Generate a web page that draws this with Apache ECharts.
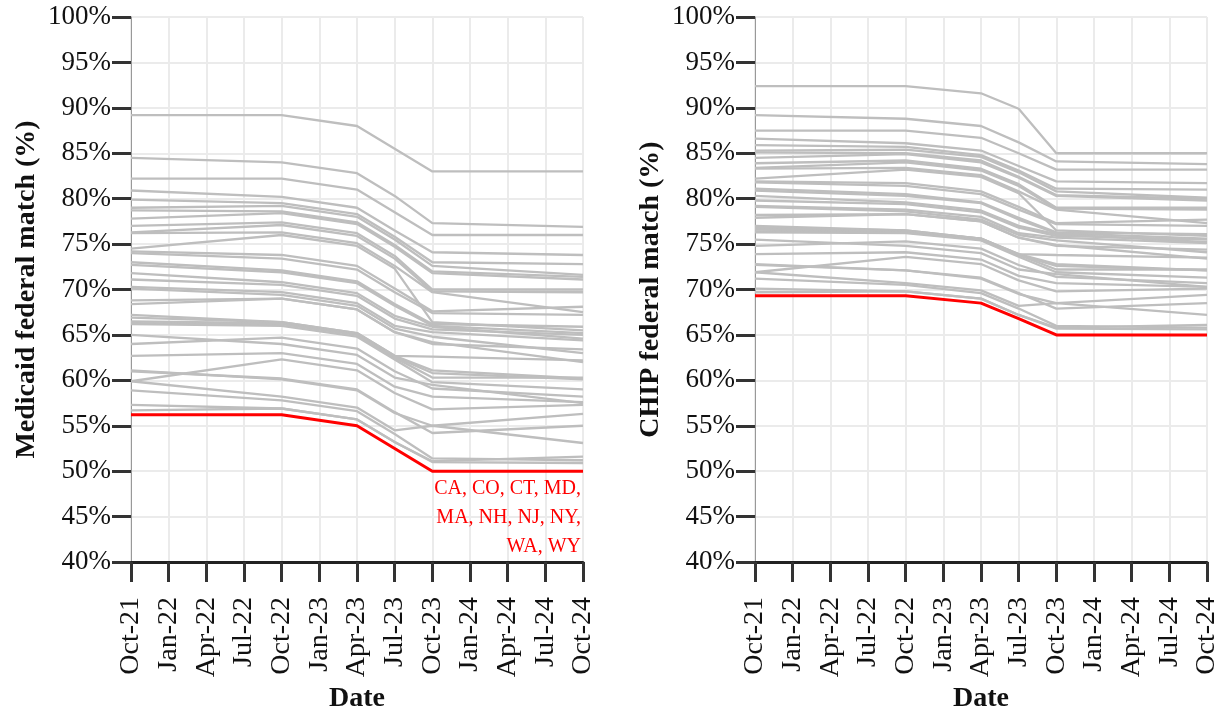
<!DOCTYPE html>
<html lang="en">
<head>
    <meta charset="UTF-8">
    <title>Federal match rates</title>
    <script src="https://cdn.jsdelivr.net/npm/echarts@6/dist/echarts.min.js"></script>
    <style>
        body { margin: 0; background: #fff; }
        #chart { width: 1227px; height: 715px; }
    </style>
</head>
<body>
    <div id="chart"></div>
    <script>
        // tick labels every 3 months, Oct-21 .. Oct-24
        const tickLabels = ['Oct-21', 'Jan-22', 'Apr-22', 'Jul-22', 'Oct-22', 'Jan-23', 'Apr-23',
                            'Jul-23', 'Oct-23', 'Jan-24', 'Apr-24', 'Jul-24', 'Oct-24'];
        // months since Oct-21 for each data point
        const pointMonths = [0, 12, 18, 21, 24, 36];

        // Medicaid federal match (%), one row per state
        const medicaidGray = [
            [89.2, 89.2, 88.0, 85.5, 83.0, 83.0],
            [84.5, 84.0, 82.8, 80.3, 77.3, 76.9],
            [82.2, 82.2, 81.0, 78.5, 76.0, 76.0],
            [80.9, 80.2, 79.0, 76.5, 74.1, 73.8],
            [79.9, 79.5, 78.3, 75.8, 73.0, 72.8],
            [79.0, 79.2, 78.0, 75.5, 72.6, 71.6],
            [78.7, 78.6, 77.4, 74.9, 72.0, 71.4],
            [77.8, 78.4, 77.2, 74.7, 71.8, 71.1],
            [77.0, 77.4, 76.2, 73.7, 70.0, 70.0],
            [76.3, 77.1, 75.9, 73.4, 69.8, 69.7],
            [76.2, 76.3, 75.1, 72.6, 69.7, 67.5],
            [74.5, 76.0, 74.8, 72.3, 66.4, 65.5],
            [74.2, 73.8, 72.6, 70.1, 67.6, 68.1],
            [74.0, 73.4, 72.2, 69.7, 67.4, 67.2],
            [73.0, 72.1, 70.9, 68.4, 66.2, 65.9],
            [72.7, 71.9, 70.7, 68.2, 66.0, 65.2],
            [71.8, 70.8, 69.6, 67.1, 65.9, 64.6],
            [71.1, 70.5, 69.3, 66.8, 65.6, 65.0],
            [70.3, 69.7, 68.5, 66.0, 65.3, 64.4],
            [70.1, 69.4, 68.2, 65.7, 64.8, 63.0],
            [68.8, 69.0, 67.8, 65.3, 64.2, 62.0],
            [68.4, 69.0, 67.8, 65.3, 64.0, 63.4],
            [67.2, 66.4, 65.2, 62.7, 62.6, 62.2],
            [66.9, 66.4, 65.2, 62.7, 61.1, 60.2],
            [66.5, 66.3, 65.1, 62.6, 60.8, 60.1],
            [66.3, 66.2, 65.0, 62.5, 60.3, 60.3],
            [66.2, 66.0, 64.8, 62.3, 59.8, 59.0],
            [65.0, 64.0, 62.8, 60.3, 59.5, 57.5],
            [64.0, 64.7, 63.5, 61.0, 59.1, 58.2],
            [62.7, 63.0, 61.8, 59.3, 58.2, 57.6],
            [61.1, 60.1, 58.9, 56.4, 55.0, 56.3],
            [59.9, 62.3, 61.1, 58.6, 56.8, 57.3],
            [59.9, 58.2, 57.0, 54.5, 55.0, 53.1],
            [58.9, 57.8, 56.6, 54.1, 51.4, 51.2],
            [57.3, 56.9, 55.7, 53.2, 51.1, 51.6],
            [56.7, 56.9, 55.7, 53.2, 51.0, 50.9],
            [61.0, 60.2, 59.0, 56.5, 54.2, 55.0]
        ];
        const medicaidRed = [56.2, 56.2, 55.0, 52.5, 50.0, 50.0];

        // CHIP federal match (%)
        const chipGray = [
            [92.4, 92.4, 91.6, 89.9, 85.0, 85.0],
            [89.2, 88.8, 88.0, 86.2, 84.1, 83.8],
            [87.5, 87.5, 86.7, 85.0, 83.2, 83.2],
            [86.6, 86.1, 85.3, 83.6, 81.9, 81.7],
            [85.9, 85.7, 84.8, 83.1, 81.1, 81.0],
            [85.3, 85.4, 84.6, 82.9, 80.8, 80.1],
            [85.1, 85.0, 84.2, 82.4, 80.4, 80.0],
            [84.5, 84.9, 84.0, 82.3, 80.3, 79.8],
            [83.9, 84.2, 83.3, 81.6, 79.0, 79.0],
            [83.4, 84.0, 83.1, 81.4, 78.9, 78.8],
            [83.3, 83.4, 82.6, 80.8, 78.8, 77.3],
            [82.2, 83.2, 82.4, 80.6, 76.5, 75.9],
            [81.9, 81.7, 80.8, 79.1, 77.3, 77.7],
            [81.8, 81.4, 80.5, 78.8, 77.2, 77.0],
            [81.1, 80.5, 79.6, 77.9, 76.3, 76.1],
            [80.9, 80.3, 79.5, 77.7, 76.2, 75.6],
            [80.3, 79.6, 78.7, 77.0, 76.1, 75.2],
            [79.8, 79.4, 78.5, 76.8, 75.9, 75.5],
            [79.2, 78.8, 78.0, 76.2, 75.7, 75.1],
            [79.1, 78.6, 77.7, 76.0, 75.4, 74.1],
            [78.2, 78.3, 77.5, 75.7, 74.9, 73.4],
            [77.9, 78.3, 77.5, 75.7, 74.8, 74.4],
            [77.0, 76.5, 75.6, 73.9, 73.8, 73.5],
            [76.8, 76.5, 75.6, 73.9, 72.8, 72.1],
            [76.6, 76.4, 75.6, 73.8, 72.6, 72.1],
            [76.4, 76.3, 75.5, 73.8, 72.2, 72.2],
            [76.3, 76.2, 75.4, 73.6, 71.9, 71.3],
            [75.5, 74.8, 74.0, 72.2, 71.7, 70.3],
            [74.8, 75.3, 74.5, 72.7, 71.4, 70.7],
            [73.9, 74.1, 73.3, 71.5, 70.7, 70.3],
            [72.8, 72.1, 71.2, 69.5, 68.5, 69.4],
            [71.9, 73.6, 72.8, 71.0, 69.8, 70.1],
            [71.9, 70.7, 69.9, 68.2, 68.5, 67.2],
            [71.2, 70.5, 69.6, 67.9, 66.0, 65.8],
            [70.1, 69.8, 69.0, 67.2, 65.8, 66.1],
            [69.7, 69.8, 69.0, 67.2, 65.7, 65.6],
            [72.7, 72.1, 71.3, 69.6, 67.9, 68.5]
        ];
        const chipRed = [69.3, 69.3, 68.5, 66.8, 65.0, 65.0];

        const redStates = 'CA, CO, CT, MD,\nMA, NH, NJ, NY,\nWA, WY';

        const font = 'Liberation Serif';
        const gray = '#bebebe';
        const red = '#ff0000';

        function makeX(gridIndex) {
            return {
                type: 'value', gridIndex: gridIndex, min: 0, max: 36, interval: 3,
                name: 'Date', nameLocation: 'middle', nameGap: 123,
                nameTextStyle: { fontFamily: font, fontSize: 28, fontWeight: 'bold', color: '#111' },
                axisLine: { show: true, onZero: false, lineStyle: { color: '#222', width: 3 } },
                axisTick: { show: true, length: 20, lineStyle: { color: '#333', width: 3 } },
                axisLabel: {
                    rotate: 90, margin: 35, fontFamily: font, fontSize: 28, color: '#111',
                    formatter: v => tickLabels[Math.round(v / 3)]
                },
                splitLine: { show: true, lineStyle: { color: '#ebebeb', width: 2 } }
            };
        }

        function makeY(gridIndex, title) {
            return {
                type: 'value', gridIndex: gridIndex, min: 40, max: 100, interval: 5,
                name: title, nameLocation: 'middle', nameGap: 90,
                nameTextStyle: { fontFamily: font, fontSize: 28, fontWeight: 'bold', color: '#111' },
                axisLine: { show: true, lineStyle: { color: '#999', width: 1 } },
                axisTick: { show: true, length: 19, lineStyle: { color: '#333', width: 3 } },
                axisLabel: { margin: 20, fontFamily: font, fontSize: 27, color: '#111', formatter: '{value}%' },
                splitLine: { show: true, lineStyle: { color: '#ebebeb', width: 2 } }
            };
        }

        function lineSeries(row, idx, color, width, z) {
            return {
                type: 'line', xAxisIndex: idx, yAxisIndex: idx,
                data: row.map((v, i) => [pointMonths[i], v]),
                symbol: 'none', silent: true, z: z,
                lineStyle: { color: color, width: width }
            };
        }

        const series = [];
        medicaidGray.forEach(r => series.push(lineSeries(r, 0, gray, 2.3, 2)));
        series.push(lineSeries(medicaidRed, 0, red, 3, 3));
        chipGray.forEach(r => series.push(lineSeries(r, 1, gray, 2.3, 2)));
        series.push(lineSeries(chipRed, 1, red, 3, 3));

        const chart = echarts.init(document.getElementById('chart'));
        chart.setOption({
            animation: false,
            grid: [
                { left: 131, right: 644, top: 17, bottom: 153, outerBoundsMode: 'none' },
                { left: 755, right: 20, top: 17, bottom: 153, outerBoundsMode: 'none' }
            ],
            xAxis: [makeX(0), makeX(1)],
            yAxis: [makeY(0, 'Medicaid federal match (%)'), makeY(1, 'CHIP federal match (%)')],
            graphic: [{
                type: 'text', x: 581, y: 518, z: 10,
                style: {
                    text: redStates, fill: red, font: '20px "Liberation Serif"',
                    align: 'right', verticalAlign: 'middle', lineHeight: 29
                }
            }],
            series: series
        });
    </script>
</body>
</html>
